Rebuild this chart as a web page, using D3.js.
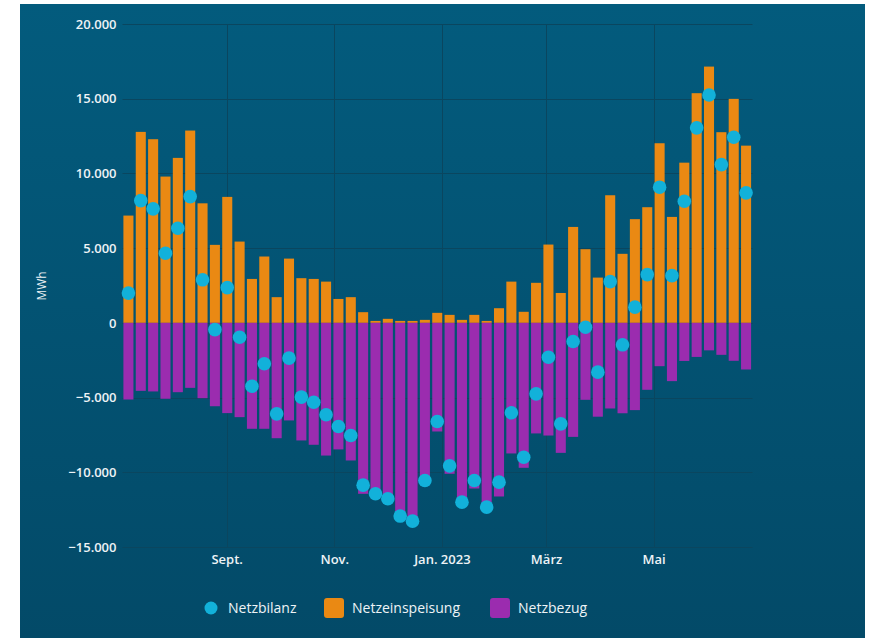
<!DOCTYPE html>
<html lang="de">
<head>
<meta charset="utf-8">
<title>Netzbilanz</title>
<style>
  body { margin: 0; background: #fff; }
  svg { display: block; }
  text { font-family: "Open Sans", sans-serif; fill: #eef3f6; }
</style>
</head>
<body>
<div id="chart"></div>
<script src="https://cdn.jsdelivr.net/npm/d3@7"></script>
<script>
// weekly values in MWh
const einspeisung = [7180, 12780, 12290, 9790, 11040, 12870, 8000, 5220, 8430, 5440,
  2940, 4440, 1720, 4300, 2990, 2940, 2760, 1600, 1720, 715,
  130, 270, 130, 130, 200, 670, 535, 200, 535, 130,
  980, 2760, 740, 2680, 5240, 2000, 6420, 4930, 3030, 8540,
  4620, 6940, 7740, 12020, 7090, 10720, 15370, 17150, 12760, 14990, 11860];

const bezug = [-5130, -4550, -4590, -5080, -4640, -4350, -5040, -5580, -6040, -6310,
  -7090, -7090, -7720, -6530, -7870, -8160, -8880, -8470, -9210, -11440,
  -11570, -12040, -13060, -13340, -10750, -7270, -10100, -12200, -11085, -12460,
  -11620, -8740, -9700, -7400, -7540, -8700, -7630, -5150, -6280, -5730,
  -6050, -5840, -4480, -2900, -3900, -2550, -2280, -1840, -2140, -2540, -3120];

const bilanz = [1990, 8180, 7630, 4660, 6330, 8450, 2880, -450, 2360, -960,
  -4240, -2740, -6090, -2360, -4970, -5310, -6150, -6940, -7540, -10860,
  -11440, -11770, -12930, -13270, -10550, -6600, -9570, -12000, -10550, -12330,
  -10660, -6020, -8990, -4750, -2300, -6760, -1250, -290, -3300, 2760,
  -1470, 1050, 3230, 9080, 3160, 8140, 13050, 15250, 10590, 12420, 8700];

// one category per week (Monday start)
const weeks = d3.timeMonday.range(new Date(2022, 6, 4), new Date(2023, 5, 26));

const yTicks = [20000, 15000, 10000, 5000, 0, -5000, -10000, -15000];
const xTickDates = [new Date(2022, 8, 1), new Date(2022, 10, 1), new Date(2023, 0, 1),
  new Date(2023, 2, 1), new Date(2023, 4, 1)];
const xTickLabels = ["Sept.", "Nov.", "Jan. 2023", "März", "Mai"];

const series = [
  { name: "Netzbilanz", color: "#12b1da", type: "dot" },
  { name: "Netzeinspeisung", color: "#ea8913", type: "bar" },
  { name: "Netzbezug", color: "#9b2caf", type: "bar" }
];

const W = 876, H = 638;
const plotLeft = 122.5, plotRight = 752.5, plotTop = 24, plotBottom = 547;

const svg = d3.select("#chart").append("svg")
  .attr("width", W).attr("height", H);

// panel background
const grad = svg.append("defs").append("linearGradient")
  .attr("id", "bg").attr("x1", 0).attr("y1", 0).attr("x2", 0).attr("y2", 1);
grad.append("stop").attr("offset", "0%").attr("stop-color", "#035b7d");
grad.append("stop").attr("offset", "100%").attr("stop-color", "#034a68");

svg.append("rect").attr("x", 20).attr("y", 4)
  .attr("width", 845).attr("height", H - 4)
  .attr("fill", "url(#bg)");

// scales
const x = d3.scaleTime()
  .domain([new Date(2022, 6, 4), new Date(2023, 5, 26)])
  .range([plotLeft, plotRight]);

const y = d3.scaleLinear()
  .domain([-15000, 20000])
  .range([plotBottom, plotTop]);

// grid
const grid = svg.append("g");
grid.selectAll(".hgrid").data(yTicks).enter()
  .append("line")
  .attr("x1", plotLeft).attr("x2", plotRight)
  .attr("y1", d => Math.round(y(d)) + 0.5).attr("y2", d => Math.round(y(d)) + 0.5)
  .attr("stroke", "#0a465f").attr("stroke-width", 1);

grid.selectAll(".vgrid").data(xTickDates).enter()
  .append("line")
  .attr("x1", d => Math.round(x(d)) + 0.5).attr("x2", d => Math.round(x(d)) + 0.5)
  .attr("y1", plotTop).attr("y2", plotBottom)
  .attr("stroke", "#0a465f").attr("stroke-width", 1);

// y axis labels
const yAxis = svg.append("g")
  .attr("transform", "translate(" + plotLeft + ",0)")
  .call(d3.axisLeft(y).tickValues(yTicks).tickSize(0).tickPadding(6)
    .tickFormat(d => d3.format(",")(d).replace(/,/g, ".")));
yAxis.select(".domain").remove();
yAxis.selectAll("text")
  .attr("fill", "#eef3f6")
  .style("font-size", "13px").style("font-weight", "600");

// x axis labels
const xAxis = svg.append("g")
  .attr("transform", "translate(0," + plotBottom + ")")
  .call(d3.axisBottom(x).tickValues(xTickDates).tickSize(0).tickPadding(8)
    .tickFormat((d, i) => xTickLabels[i]));
xAxis.select(".domain").remove();
xAxis.selectAll("text")
  .attr("fill", "#eef3f6")
  .style("font-size", "13px").style("font-weight", "600");

// y title
svg.append("text")
  .attr("transform", "translate(46,286) rotate(-90)")
  .attr("text-anchor", "middle")
  .style("font-size", "12px")
  .text("MWh");

// bars
const barX = d => x(d) + 0.9;
const barW = d => x(d3.timeDay.offset(d, 7)) - x(d) - 2.3;

svg.append("g").selectAll("rect")
  .data(weeks).enter()
  .append("rect")
  .attr("x", d => barX(d))
  .attr("width", d => barW(d))
  .attr("y", (d, i) => y(einspeisung[i]))
  .attr("height", (d, i) => y(0) - y(einspeisung[i]))
  .attr("fill", series[1].color);

svg.append("g").selectAll("rect")
  .data(weeks).enter()
  .append("rect")
  .attr("x", d => barX(d))
  .attr("width", d => barW(d))
  .attr("y", y(0))
  .attr("height", (d, i) => y(bezug[i]) - y(0))
  .attr("fill", series[2].color);

// balance dots
svg.append("g").selectAll("circle")
  .data(weeks).enter()
  .append("circle")
  .attr("cx", d => barX(d) + barW(d) / 2)
  .attr("cy", (d, i) => y(bilanz[i]))
  .attr("r", 6.8)
  .attr("fill", series[0].color);

// legend
const legendX = [211, 324, 490];
const legend = svg.append("g");
series.forEach(function (s, i) {
  const g = legend.append("g").attr("transform", "translate(" + legendX[i] + ",608)");
  if (s.type === "dot") {
    g.append("circle").attr("cx", 0).attr("cy", 0).attr("r", 6.5).attr("fill", s.color);
    g.append("text").attr("x", 17).attr("y", 5).style("font-size", "14px").text(s.name);
  } else {
    g.append("rect").attr("x", 0).attr("y", -10).attr("width", 20).attr("height", 20)
      .attr("rx", 3).attr("fill", s.color);
    g.append("text").attr("x", 28).attr("y", 5).style("font-size", "14px").text(s.name);
  }
});
</script>
</body>
</html>
